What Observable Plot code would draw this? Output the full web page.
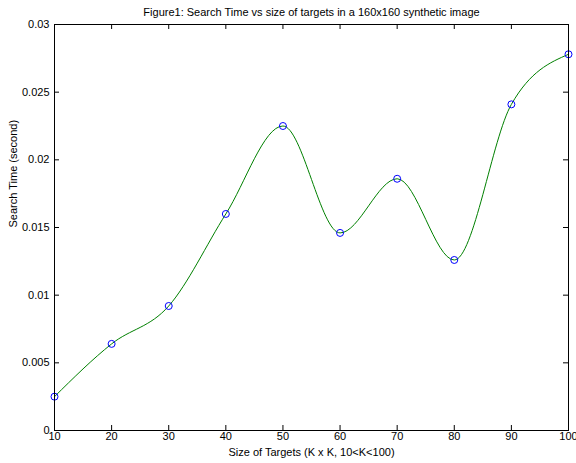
<!DOCTYPE html>
<html>
<head>
<meta charset="utf-8">
<script src="https://cdn.jsdelivr.net/npm/d3@7"></script>
<script src="https://cdn.jsdelivr.net/npm/@observablehq/plot@0.6"></script>
<style>
  html, body { margin: 0; padding: 0; background: #fff; }
  svg { display: block; }
</style>
</head>
<body>
<div id="chart"></div>
<script>
const titleText = "Figure1: Search Time vs size of targets in a 160x160 synthetic image";
const xLabel = "Size of Targets (K x K, 10<K<100)";
const yLabel = "Search Time (second)";
const targetSizes = [10, 20, 30, 40, 50, 60, 70, 80, 90, 100];
const searchTimes = [0.0025, 0.0064, 0.0092, 0.0160, 0.0225, 0.0146, 0.0186, 0.0126, 0.0241, 0.0278];
const xTicks = [10, 20, 30, 40, 50, 60, 70, 80, 90, 100];
const yTicks = [0, 0.005, 0.01, 0.015, 0.02, 0.025, 0.03];
const yTickLabels = ["0", "0.005", "0.01", "0.015", "0.02", "0.025", "0.03"];

const data = targetSizes.map((k, i) => ({k, t: searchTimes[i]}));

const W = 576, H = 463;
const mL = 54, mR = 8, mT = 24, mB = 33;
const innerW = W - mL - mR, innerH = H - mT - mB;
const tick = 5;
const font = "'Liberation Sans', Arial, Helvetica, sans-serif";

const chart = Plot.plot({
  width: W,
  height: H,
  marginLeft: mL,
  marginRight: mR,
  marginTop: mT,
  marginBottom: mB,
  style: {fontFamily: font, fontSize: "11px", background: "#fff", color: "#000", overflow: "visible"},
  x: {domain: [10, 100]},
  y: {domain: [0, 0.03]},
  marks: [
    Plot.line(data, {x: "k", y: "t", stroke: "#008000", strokeWidth: 1, curve: "monotone-x"}),
    Plot.dot(data, {x: "k", y: "t", r: 3.5, stroke: "#0000ff", strokeWidth: 1, fill: "none"}),
    // inward ticks on all four sides
    Plot.ruleX(xTicks, {x: d => d, insetTop: innerH - tick, stroke: "#000"}),
    Plot.ruleX(xTicks, {x: d => d, insetBottom: innerH - tick, stroke: "#000"}),
    Plot.ruleY(yTicks, {y: d => d, insetRight: innerW - tick, stroke: "#000"}),
    Plot.ruleY(yTicks, {y: d => d, insetLeft: innerW - tick, stroke: "#000"}),
    Plot.frame({stroke: "#000", strokeWidth: 1}),
    Plot.axisX({ticks: xTicks, tickSize: 0, tickPadding: 2, tickFormat: d => String(d), label: null, fontSize: 11}),
    Plot.axisY({ticks: yTicks, tickSize: 0, tickPadding: 5, tickFormat: d => yTickLabels[yTicks.indexOf(d)], label: null, fontSize: 11}),
    Plot.text([titleText], {text: d => d, frameAnchor: "top", dy: -12, fontSize: 11, lineAnchor: "middle"}),
    Plot.text([xLabel], {text: d => d, frameAnchor: "bottom", dy: 22, fontSize: 11, lineAnchor: "middle"}),
    Plot.text([yLabel], {text: d => d, frameAnchor: "left", dx: -41, rotate: -90, fontSize: 11, lineAnchor: "middle"})
  ]
});
document.getElementById("chart").appendChild(chart);
</script>
</body>
</html>
